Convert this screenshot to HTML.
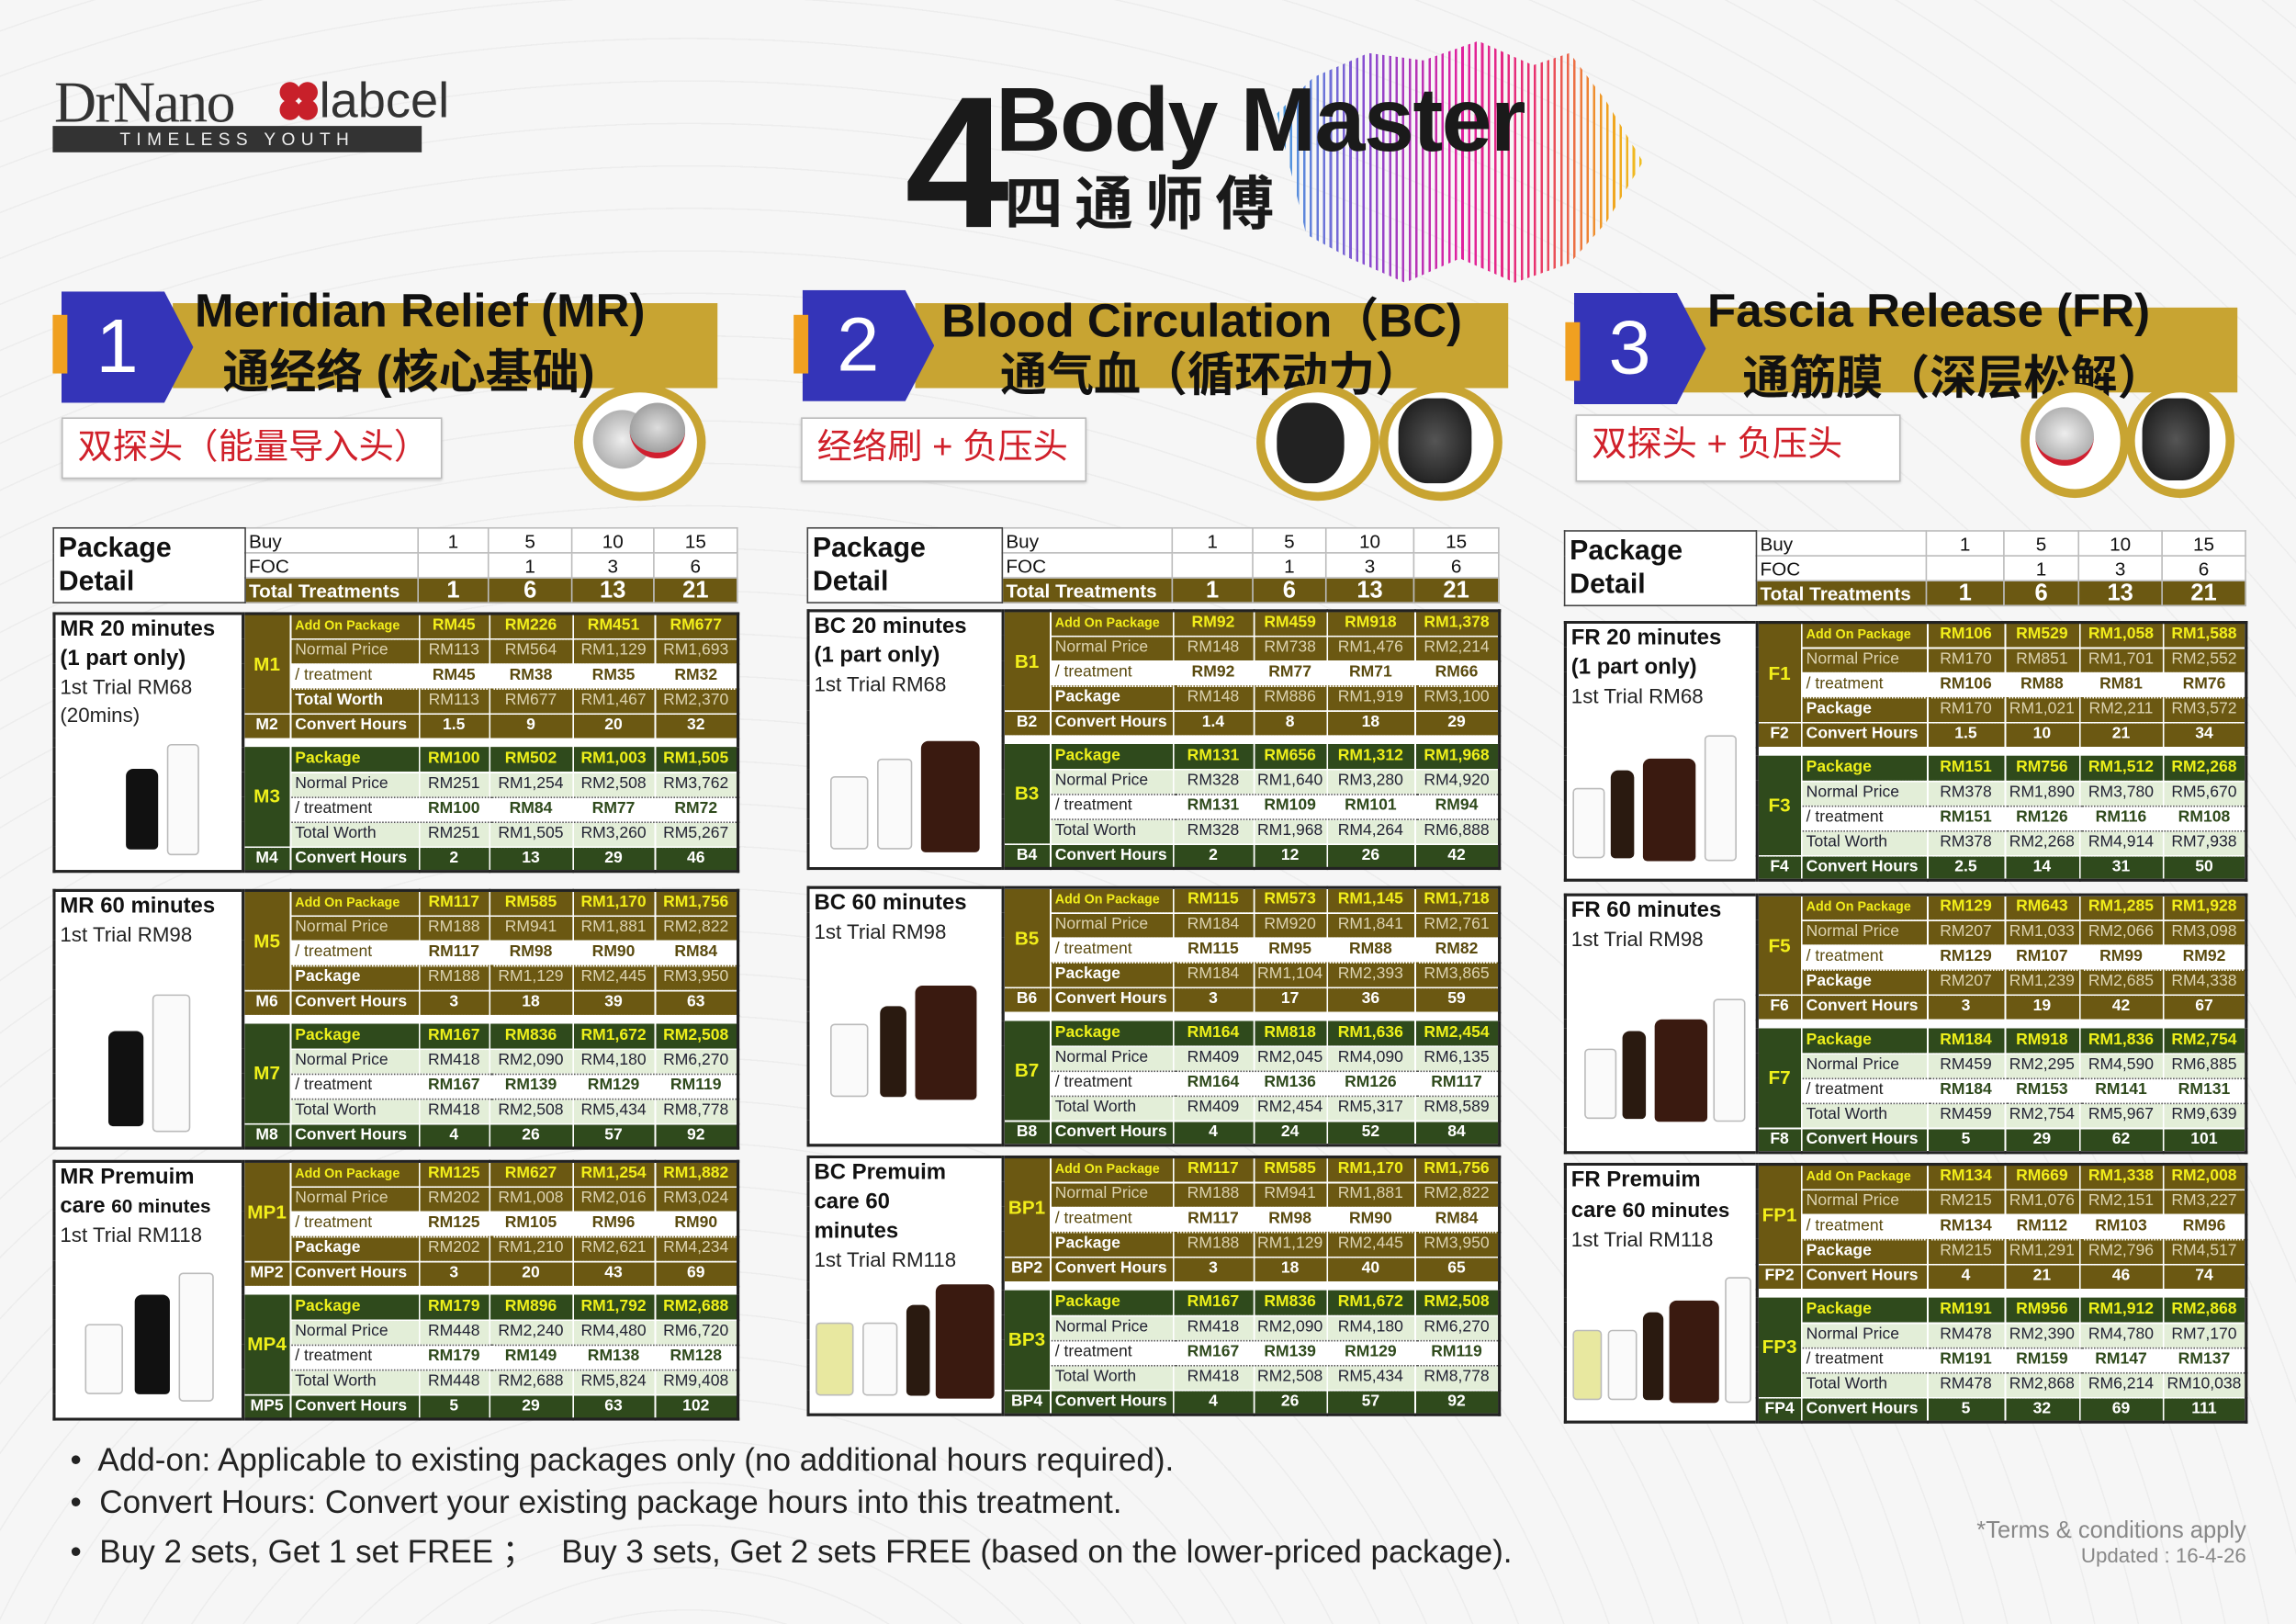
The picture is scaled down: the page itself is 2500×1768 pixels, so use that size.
<!DOCTYPE html>
<html><head><meta charset="utf-8">
<style>
*{box-sizing:border-box;margin:0;padding:0}
html,body{width:2500px;height:1768px;overflow:hidden;background:#f6f6f6}
#w{position:absolute;left:0;top:0;width:1568px;height:1109px;transform:scale(1.59439);transform-origin:0 0;font-family:"Liberation Sans Narrow","Liberation Sans",sans-serif;color:#111}
.abs{position:absolute}
.bg{background:repeating-radial-gradient(circle at 30% 120%,transparent 0 28px,rgba(0,0,0,.035) 28px 29px);}
table.t{position:absolute;border-collapse:collapse;table-layout:fixed;border:2px solid #222;background:#fff}
table.t td{padding:0;text-align:center;font-size:11px;white-space:nowrap;overflow:hidden;height:17px;border-right:1px solid rgba(255,255,255,.55);border-bottom:1px dotted rgba(255,255,255,.5);line-height:15px}
table.t td.lab{text-align:left;padding-left:3px}
table.t td.lc{vertical-align:top;text-align:left!important;background:#fff!important;color:#111!important;font-weight:normal!important;border-right:2px solid #222!important;border-bottom:none!important;position:relative}
.lc .h{font-family:"Liberation Sans",sans-serif;font-weight:bold;font-size:15px;line-height:20px;padding-left:3px;white-space:normal;color:#111}
.lc .s{font-size:14px;line-height:19px;padding-left:3px;white-space:normal;color:#222}
td.co{background:#6b5812;color:#fff;font-weight:bold;font-size:13px!important}
td.cg{background:#2f4a1c;color:#fff;font-weight:bold;font-size:13px!important}
tr.a1 td{background:#6b5812;color:#f2ee1a;font-weight:bold}
tr.a1 td.lab{font-size:9px}
tr.a2 td{background:#6b5812;color:#ddd3b0}
tr.a3 td{background:#fff;color:#5a4a0e;font-weight:bold;border-bottom:1px dotted #6b5812}
tr.a3 td.lab{font-weight:normal}
tr.a4 td{background:#6b5812;color:#ddd3b0}
tr.a4 td.lab{color:#fff;font-weight:bold}
tr.cv td{background:#6b5812;color:#fff;font-weight:bold}
tr.gp td{height:6px!important;background:#fff;border:none}
tr.b1 td{background:#2f4a1c;color:#eef01a;font-weight:bold}
tr.b2 td{background:#e3eed8;color:#223;border-bottom:1px dotted #555}
tr.b3 td{background:#fff;color:#2f4a1c;font-weight:bold;border-bottom:1px dotted #555}
tr.b3 td.lab{font-weight:normal;color:#222}
tr.b4 td{background:#e3eed8;color:#223}
tr.cg td{background:#2f4a1c;color:#fff;font-weight:bold}
table.hd{position:absolute;border-collapse:collapse;table-layout:fixed;background:#fff;border:1px solid #444}
table.hd td{font-size:13px;height:17px;text-align:center;border:1px solid #bbb;padding:0;line-height:15px}
table.hd td.l{text-align:left;padding-left:2px}
table.hd td.pk{font-family:"Liberation Sans",sans-serif;font-weight:bold;font-size:19px;text-align:left;padding-left:3px;line-height:23px;border:1px solid #444}
table.hd tr.tt td{background:#6b5812;color:#fff;font-weight:bold;font-size:16px}
table.hd tr.tt td.l{font-size:13px}
.bk{position:absolute;background:#111;border-radius:5px 5px 3px 3px}
.wh{position:absolute;background:#fafafa;border:1px solid #bbb;border-radius:3px}
.banner{position:absolute;background:#c8a432;height:58px}
.badge{position:absolute;width:90px;height:76px;background:#3434b8;clip-path:polygon(0 0,78% 0,100% 50%,78% 100%,0 100%);color:#fff;font-family:"Liberation Sans",sans-serif;font-size:52px;text-align:center;line-height:76px;padding-right:14px}
.bt{position:absolute;font-family:"Liberation Sans","Noto Sans CJK SC",sans-serif;font-weight:bold;color:#111;white-space:nowrap}
.rb{position:absolute;background:#fff;border:1px solid #bbb;color:#d0202a;font-family:"Liberation Sans","Noto Sans CJK SC",sans-serif;font-size:24px;padding-left:10px;line-height:40px;box-shadow:0 1px 2px rgba(0,0,0,.2)}
.ring{position:absolute;border:6px solid #c8a432;border-radius:50%;background:#fff}
.ft{position:absolute;left:48px;font-family:"Liberation Sans",sans-serif;font-size:22px;color:#222;white-space:nowrap}
</style></head><body>
<div id="w">
<div class="abs bg" style="left:0;top:0;width:1568px;height:1109px"></div>

<!-- logo -->
<div class="abs" style="left:37px;top:46px;font-family:'Liberation Serif',serif;font-size:40px;color:#333;letter-spacing:-1px">DrNano</div>
<div class="abs" style="left:191px;top:56px;width:14px;height:14px;border-radius:50%;background:#c8202a"></div>
<div class="abs" style="left:203px;top:56px;width:14px;height:14px;border-radius:50%;background:#c8202a"></div>
<div class="abs" style="left:191px;top:68px;width:14px;height:14px;border-radius:50%;background:#c8202a"></div>
<div class="abs" style="left:203px;top:68px;width:14px;height:14px;border-radius:50%;background:#c8202a"></div>
<div class="abs" style="left:218px;top:50px;font-family:'Liberation Sans Narrow',sans-serif;font-size:34px;color:#333">labcel</div>
<div class="abs" style="left:36px;top:86px;width:252px;height:18px;background:#333;color:#eee;font-size:12px;letter-spacing:4px;text-align:center;line-height:18px;font-family:'Liberation Sans',sans-serif">TIMELESS YOUTH</div>

<!-- title -->
<div class="abs" style="left:872px;top:28px;width:250px;height:165px;background:linear-gradient(90deg,#4aa0e0,#8a4ad0 25%,#e020a0 50%,#e83070 70%,#f0a020 90%,#f0c020);-webkit-mask-image:repeating-linear-gradient(90deg,#000 0 1.6px,transparent 1.6px 4.5px);clip-path:polygon(0 30%,10% 15%,25% 5%,40% 8%,55% 0,70% 10%,80% 5%,90% 25%,100% 50%,90% 75%,80% 92%,65% 100%,50% 90%,35% 100%,20% 90%,8% 80%)"></div>
<div class="abs" style="left:618px;top:48px;font-family:'Liberation Sans Narrow','Liberation Sans',sans-serif;font-weight:bold;font-size:128px;line-height:128px;color:#1a1a1a">4</div>
<div class="abs" style="left:680px;top:48px;font-family:'Liberation Sans',sans-serif;font-weight:bold;font-size:62px;line-height:70px;color:#1a1a1a;letter-spacing:-1px">Body Master</div>
<div class="abs" style="left:686px;top:112px;font-family:'Noto Sans CJK SC',sans-serif;font-weight:bold;font-size:40px;line-height:48px;color:#1a1a1a;letter-spacing:8px">四通师傅</div>

<!-- section 1 -->
<div class="banner" style="left:118px;top:207px;width:372px"></div>
<div class="badge" style="left:42px;top:199px">1</div>
<div class="abs" style="left:36px;top:215px;width:10px;height:40px;background:#f0a020"></div>
<div class="bt" style="left:133px;top:194px;font-size:32px">Meridian Relief (MR)</div>
<div class="bt" style="left:152px;top:229px;font-size:32px">通经络 (核心基础)</div>
<div class="rb" style="left:42px;top:285px;width:260px;height:42px">双探头（能量导入头）</div>
<div class="ring" style="left:392px;top:262px;width:90px;height:80px"></div>
<div class="abs" style="left:405px;top:280px;width:40px;height:40px;border-radius:50%;background:radial-gradient(#eee,#999);"></div>
<div class="abs" style="left:430px;top:275px;width:38px;height:38px;border-radius:50%;background:radial-gradient(#ddd,#888);border-bottom:4px solid #d02030"></div>

<!-- section 2 -->
<div class="banner" style="left:625px;top:207px;width:405px"></div>
<div class="badge" style="left:548px;top:198px">2</div>
<div class="abs" style="left:542px;top:215px;width:10px;height:40px;background:#f0a020"></div>
<div class="bt" style="left:643px;top:194px;font-size:32px">Blood Circulation（BC)</div>
<div class="bt" style="left:683px;top:231px;font-size:32px">通气血（循环动力）</div>
<div class="rb" style="left:547px;top:285px;width:195px;height:44px">经络刷 + 负压头</div>
<div class="ring" style="left:858px;top:262px;width:84px;height:80px"></div>
<div class="ring" style="left:942px;top:262px;width:84px;height:80px"></div>
<div class="abs" style="left:872px;top:275px;width:46px;height:55px;border-radius:45%;background:#222"></div>
<div class="abs" style="left:955px;top:272px;width:50px;height:58px;border-radius:40%;background:radial-gradient(#555,#111)"></div>

<!-- section 3 -->
<div class="banner" style="left:1148px;top:210px;width:380px"></div>
<div class="badge" style="left:1075px;top:200px">3</div>
<div class="abs" style="left:1069px;top:220px;width:10px;height:40px;background:#f0a020"></div>
<div class="bt" style="left:1166px;top:194px;font-size:32px">Fascia Release (FR)</div>
<div class="bt" style="left:1190px;top:233px;font-size:32px">通筋膜（深层松解）</div>
<div class="rb" style="left:1076px;top:283px;width:222px;height:46px">双探头 + 负压头</div>
<div class="ring" style="left:1380px;top:262px;width:74px;height:78px"></div>
<div class="ring" style="left:1452px;top:262px;width:74px;height:78px"></div>
<div class="abs" style="left:1390px;top:278px;width:40px;height:40px;border-radius:50%;background:radial-gradient(#eee,#999);border-bottom:4px solid #d02030"></div>
<div class="abs" style="left:1463px;top:272px;width:46px;height:56px;border-radius:40%;background:radial-gradient(#555,#111)"></div>

<!-- ============ PANEL 1 ============ -->
<table class="hd" style="left:36px;top:360px;width:467px">
<colgroup><col style="width:131px"><col style="width:118px"><col style="width:48px"><col style="width:57px"><col style="width:56px"><col style="width:57px"></colgroup>
<tr><td class="pk" rowspan="3">Package<br>Detail</td><td class="l">Buy</td><td>1</td><td>5</td><td>10</td><td>15</td></tr>
<tr><td class="l">FOC</td><td></td><td>1</td><td>3</td><td>6</td></tr>
<tr class="tt"><td class="l">Total Treatments</td><td>1</td><td>6</td><td>13</td><td>21</td></tr>
</table>

<table class="t" style="left:36px;top:418px;width:467px">
<colgroup><col style="width:129px"><col style="width:32px"><col style="width:88px"><col style="width:48px"><col style="width:57px"><col style="width:56px"><col style="width:57px"></colgroup>
<tr class="a1"><td class="lc" rowspan="11"><div class="h">MR 20 minutes<br>(1 part only)</div><div class="s">1st Trial RM68<br>(20mins)</div><div class="bk" style="left:48px;top:105px;width:22px;height:55px"></div><div class="wh" style="left:76px;top:88px;width:22px;height:76px"></div></td><td class="co" rowspan="4">M1</td><td class="lab">Add On Package</td><td>RM45</td><td>RM226</td><td>RM451</td><td>RM677</td></tr>
<tr class="a2"><td class="lab">Normal Price</td><td>RM113</td><td>RM564</td><td>RM1,129</td><td>RM1,693</td></tr>
<tr class="a3"><td class="lab">/ treatment</td><td>RM45</td><td>RM38</td><td>RM35</td><td>RM32</td></tr>
<tr class="a4"><td class="lab">Total Worth</td><td>RM113</td><td>RM677</td><td>RM1,467</td><td>RM2,370</td></tr>
<tr class="cv"><td>M2</td><td class="lab">Convert Hours</td><td>1.5</td><td>9</td><td>20</td><td>32</td></tr>
<tr class="gp"><td colspan="6"></td></tr>
<tr class="b1"><td class="cg" rowspan="4">M3</td><td class="lab">Package</td><td>RM100</td><td>RM502</td><td>RM1,003</td><td>RM1,505</td></tr>
<tr class="b2"><td class="lab">Normal Price</td><td>RM251</td><td>RM1,254</td><td>RM2,508</td><td>RM3,762</td></tr>
<tr class="b3"><td class="lab">/ treatment</td><td>RM100</td><td>RM84</td><td>RM77</td><td>RM72</td></tr>
<tr class="b4"><td class="lab">Total Worth</td><td>RM251</td><td>RM1,505</td><td>RM3,260</td><td>RM5,267</td></tr>
<tr class="cg"><td>M4</td><td class="lab">Convert Hours</td><td>2</td><td>13</td><td>29</td><td>46</td></tr>
</table>

<table class="t" style="left:36px;top:607px;width:467px">
<colgroup><col style="width:129px"><col style="width:32px"><col style="width:88px"><col style="width:48px"><col style="width:57px"><col style="width:56px"><col style="width:57px"></colgroup>
<tr class="a1"><td class="lc" rowspan="11"><div class="h">MR 60 minutes</div><div class="s">1st Trial RM98</div><div class="bk" style="left:36px;top:95px;width:24px;height:65px"></div><div class="wh" style="left:66px;top:70px;width:26px;height:94px"></div></td><td class="co" rowspan="4">M5</td><td class="lab">Add On Package</td><td>RM117</td><td>RM585</td><td>RM1,170</td><td>RM1,756</td></tr>
<tr class="a2"><td class="lab">Normal Price</td><td>RM188</td><td>RM941</td><td>RM1,881</td><td>RM2,822</td></tr>
<tr class="a3"><td class="lab">/ treatment</td><td>RM117</td><td>RM98</td><td>RM90</td><td>RM84</td></tr>
<tr class="a4"><td class="lab">Package</td><td>RM188</td><td>RM1,129</td><td>RM2,445</td><td>RM3,950</td></tr>
<tr class="cv"><td>M6</td><td class="lab">Convert Hours</td><td>3</td><td>18</td><td>39</td><td>63</td></tr>
<tr class="gp"><td colspan="6"></td></tr>
<tr class="b1"><td class="cg" rowspan="4">M7</td><td class="lab">Package</td><td>RM167</td><td>RM836</td><td>RM1,672</td><td>RM2,508</td></tr>
<tr class="b2"><td class="lab">Normal Price</td><td>RM418</td><td>RM2,090</td><td>RM4,180</td><td>RM6,270</td></tr>
<tr class="b3"><td class="lab">/ treatment</td><td>RM167</td><td>RM139</td><td>RM129</td><td>RM119</td></tr>
<tr class="b4"><td class="lab">Total Worth</td><td>RM418</td><td>RM2,508</td><td>RM5,434</td><td>RM8,778</td></tr>
<tr class="cg"><td>M8</td><td class="lab">Convert Hours</td><td>4</td><td>26</td><td>57</td><td>92</td></tr>
</table>

<table class="t" style="left:36px;top:792px;width:467px">
<colgroup><col style="width:129px"><col style="width:32px"><col style="width:88px"><col style="width:48px"><col style="width:57px"><col style="width:56px"><col style="width:57px"></colgroup>
<tr class="a1"><td class="lc" rowspan="11"><div class="h">MR Premuim<br>care <span style="font-size:13px">60 minutes</span></div><div class="s">1st Trial RM118</div><div class="wh" style="left:20px;top:110px;width:26px;height:48px"></div><div class="bk" style="left:54px;top:90px;width:24px;height:68px"></div><div class="wh" style="left:84px;top:75px;width:24px;height:88px"></div></td><td class="co" rowspan="4">MP1</td><td class="lab">Add On Package</td><td>RM125</td><td>RM627</td><td>RM1,254</td><td>RM1,882</td></tr>
<tr class="a2"><td class="lab">Normal Price</td><td>RM202</td><td>RM1,008</td><td>RM2,016</td><td>RM3,024</td></tr>
<tr class="a3"><td class="lab">/ treatment</td><td>RM125</td><td>RM105</td><td>RM96</td><td>RM90</td></tr>
<tr class="a4"><td class="lab">Package</td><td>RM202</td><td>RM1,210</td><td>RM2,621</td><td>RM4,234</td></tr>
<tr class="cv"><td>MP2</td><td class="lab">Convert Hours</td><td>3</td><td>20</td><td>43</td><td>69</td></tr>
<tr class="gp"><td colspan="6"></td></tr>
<tr class="b1"><td class="cg" rowspan="4">MP4</td><td class="lab">Package</td><td>RM179</td><td>RM896</td><td>RM1,792</td><td>RM2,688</td></tr>
<tr class="b2"><td class="lab">Normal Price</td><td>RM448</td><td>RM2,240</td><td>RM4,480</td><td>RM6,720</td></tr>
<tr class="b3"><td class="lab">/ treatment</td><td>RM179</td><td>RM149</td><td>RM138</td><td>RM128</td></tr>
<tr class="b4"><td class="lab">Total Worth</td><td>RM448</td><td>RM2,688</td><td>RM5,824</td><td>RM9,408</td></tr>
<tr class="cg"><td>MP5</td><td class="lab">Convert Hours</td><td>5</td><td>29</td><td>63</td><td>102</td></tr>
</table>

<!-- ============ PANEL 2 ============ -->
<table class="hd" style="left:551px;top:360px;width:472px">
<colgroup><col style="width:133px"><col style="width:116px"><col style="width:55px"><col style="width:50px"><col style="width:60px"><col style="width:58px"></colgroup>
<tr><td class="pk" rowspan="3">Package<br>Detail</td><td class="l">Buy</td><td>1</td><td>5</td><td>10</td><td>15</td></tr>
<tr><td class="l">FOC</td><td></td><td>1</td><td>3</td><td>6</td></tr>
<tr class="tt"><td class="l">Total Treatments</td><td>1</td><td>6</td><td>13</td><td>21</td></tr>
</table>

<table class="t" style="left:551px;top:416px;width:472px">
<colgroup><col style="width:133px"><col style="width:32px"><col style="width:84px"><col style="width:55px"><col style="width:50px"><col style="width:60px"><col style="width:58px"></colgroup>
<tr class="a1"><td class="lc" rowspan="11"><div class="h">BC 20 minutes<br>(1 part only)</div><div class="s">1st Trial RM68</div><div class="wh" style="left:14px;top:112px;width:26px;height:50px"></div><div class="wh" style="left:46px;top:100px;width:24px;height:62px"></div><div class="bk" style="left:76px;top:88px;width:40px;height:76px;background:#3a1a10"></div></td><td class="co" rowspan="4">B1</td><td class="lab">Add On Package</td><td>RM92</td><td>RM459</td><td>RM918</td><td>RM1,378</td></tr>
<tr class="a2"><td class="lab">Normal Price</td><td>RM148</td><td>RM738</td><td>RM1,476</td><td>RM2,214</td></tr>
<tr class="a3"><td class="lab">/ treatment</td><td>RM92</td><td>RM77</td><td>RM71</td><td>RM66</td></tr>
<tr class="a4"><td class="lab">Package</td><td>RM148</td><td>RM886</td><td>RM1,919</td><td>RM3,100</td></tr>
<tr class="cv"><td>B2</td><td class="lab">Convert Hours</td><td>1.4</td><td>8</td><td>18</td><td>29</td></tr>
<tr class="gp"><td colspan="6"></td></tr>
<tr class="b1"><td class="cg" rowspan="4">B3</td><td class="lab">Package</td><td>RM131</td><td>RM656</td><td>RM1,312</td><td>RM1,968</td></tr>
<tr class="b2"><td class="lab">Normal Price</td><td>RM328</td><td>RM1,640</td><td>RM3,280</td><td>RM4,920</td></tr>
<tr class="b3"><td class="lab">/ treatment</td><td>RM131</td><td>RM109</td><td>RM101</td><td>RM94</td></tr>
<tr class="b4"><td class="lab">Total Worth</td><td>RM328</td><td>RM1,968</td><td>RM4,264</td><td>RM6,888</td></tr>
<tr class="cg"><td>B4</td><td class="lab">Convert Hours</td><td>2</td><td>12</td><td>26</td><td>42</td></tr>
</table>

<table class="t" style="left:551px;top:605px;width:472px">
<colgroup><col style="width:133px"><col style="width:32px"><col style="width:84px"><col style="width:55px"><col style="width:50px"><col style="width:60px"><col style="width:58px"></colgroup>
<tr class="a1"><td class="lc" rowspan="11"><div class="h">BC 60 minutes</div><div class="s">1st Trial RM98</div><div class="wh" style="left:14px;top:92px;width:26px;height:50px"></div><div class="bk" style="left:48px;top:80px;width:18px;height:62px;background:#2a1a10"></div><div class="bk" style="left:72px;top:66px;width:42px;height:78px;background:#3a1a10"></div></td><td class="co" rowspan="4">B5</td><td class="lab">Add On Package</td><td>RM115</td><td>RM573</td><td>RM1,145</td><td>RM1,718</td></tr>
<tr class="a2"><td class="lab">Normal Price</td><td>RM184</td><td>RM920</td><td>RM1,841</td><td>RM2,761</td></tr>
<tr class="a3"><td class="lab">/ treatment</td><td>RM115</td><td>RM95</td><td>RM88</td><td>RM82</td></tr>
<tr class="a4"><td class="lab">Package</td><td>RM184</td><td>RM1,104</td><td>RM2,393</td><td>RM3,865</td></tr>
<tr class="cv"><td>B6</td><td class="lab">Convert Hours</td><td>3</td><td>17</td><td>36</td><td>59</td></tr>
<tr class="gp"><td colspan="6"></td></tr>
<tr class="b1"><td class="cg" rowspan="4">B7</td><td class="lab">Package</td><td>RM164</td><td>RM818</td><td>RM1,636</td><td>RM2,454</td></tr>
<tr class="b2"><td class="lab">Normal Price</td><td>RM409</td><td>RM2,045</td><td>RM4,090</td><td>RM6,135</td></tr>
<tr class="b3"><td class="lab">/ treatment</td><td>RM164</td><td>RM136</td><td>RM126</td><td>RM117</td></tr>
<tr class="b4"><td class="lab">Total Worth</td><td>RM409</td><td>RM2,454</td><td>RM5,317</td><td>RM8,589</td></tr>
<tr class="cg"><td>B8</td><td class="lab">Convert Hours</td><td>4</td><td>24</td><td>52</td><td>84</td></tr>
</table>

<table class="t" style="left:551px;top:789px;width:472px">
<colgroup><col style="width:133px"><col style="width:32px"><col style="width:84px"><col style="width:55px"><col style="width:50px"><col style="width:60px"><col style="width:58px"></colgroup>
<tr class="a1"><td class="lc" rowspan="11"><div class="h">BC Premuim<br>care 60<br>minutes</div><div class="s">1st Trial RM118</div><div class="wh" style="left:4px;top:112px;width:26px;height:50px;background:#e8e8a0"></div><div class="wh" style="left:36px;top:112px;width:24px;height:50px"></div><div class="bk" style="left:66px;top:100px;width:16px;height:62px;background:#2a1a10"></div><div class="bk" style="left:86px;top:86px;width:40px;height:78px;background:#3a1a10"></div></td><td class="co" rowspan="4">BP1</td><td class="lab">Add On Package</td><td>RM117</td><td>RM585</td><td>RM1,170</td><td>RM1,756</td></tr>
<tr class="a2"><td class="lab">Normal Price</td><td>RM188</td><td>RM941</td><td>RM1,881</td><td>RM2,822</td></tr>
<tr class="a3"><td class="lab">/ treatment</td><td>RM117</td><td>RM98</td><td>RM90</td><td>RM84</td></tr>
<tr class="a4"><td class="lab">Package</td><td>RM188</td><td>RM1,129</td><td>RM2,445</td><td>RM3,950</td></tr>
<tr class="cv"><td>BP2</td><td class="lab">Convert Hours</td><td>3</td><td>18</td><td>40</td><td>65</td></tr>
<tr class="gp"><td colspan="6"></td></tr>
<tr class="b1"><td class="cg" rowspan="4">BP3</td><td class="lab">Package</td><td>RM167</td><td>RM836</td><td>RM1,672</td><td>RM2,508</td></tr>
<tr class="b2"><td class="lab">Normal Price</td><td>RM418</td><td>RM2,090</td><td>RM4,180</td><td>RM6,270</td></tr>
<tr class="b3"><td class="lab">/ treatment</td><td>RM167</td><td>RM139</td><td>RM129</td><td>RM119</td></tr>
<tr class="b4"><td class="lab">Total Worth</td><td>RM418</td><td>RM2,508</td><td>RM5,434</td><td>RM8,778</td></tr>
<tr class="cg"><td>BP4</td><td class="lab">Convert Hours</td><td>4</td><td>26</td><td>57</td><td>92</td></tr>
</table>

<!-- ============ PANEL 3 ============ -->
<table class="hd" style="left:1068px;top:362px;width:465px">
<colgroup><col style="width:131px"><col style="width:116px"><col style="width:53px"><col style="width:51px"><col style="width:57px"><col style="width:57px"></colgroup>
<tr><td class="pk" rowspan="3">Package<br>Detail</td><td class="l">Buy</td><td>1</td><td>5</td><td>10</td><td>15</td></tr>
<tr><td class="l">FOC</td><td></td><td>1</td><td>3</td><td>6</td></tr>
<tr class="tt"><td class="l">Total Treatments</td><td>1</td><td>6</td><td>13</td><td>21</td></tr>
</table>

<table class="t" style="left:1068px;top:424px;width:465px">
<colgroup><col style="width:131px"><col style="width:30px"><col style="width:86px"><col style="width:53px"><col style="width:51px"><col style="width:57px"><col style="width:57px"></colgroup>
<tr class="a1"><td class="lc" rowspan="11"><div class="h">FR 20 minutes<br>(1 part only)</div><div class="s">1st Trial RM68</div><div class="wh" style="left:4px;top:112px;width:22px;height:48px"></div><div class="bk" style="left:30px;top:100px;width:16px;height:60px;background:#2a1a10"></div><div class="bk" style="left:52px;top:92px;width:36px;height:70px;background:#3a1a10"></div><div class="wh" style="left:94px;top:76px;width:22px;height:86px"></div></td><td class="co" rowspan="4">F1</td><td class="lab">Add On Package</td><td>RM106</td><td>RM529</td><td>RM1,058</td><td>RM1,588</td></tr>
<tr class="a2"><td class="lab">Normal Price</td><td>RM170</td><td>RM851</td><td>RM1,701</td><td>RM2,552</td></tr>
<tr class="a3"><td class="lab">/ treatment</td><td>RM106</td><td>RM88</td><td>RM81</td><td>RM76</td></tr>
<tr class="a4"><td class="lab">Package</td><td>RM170</td><td>RM1,021</td><td>RM2,211</td><td>RM3,572</td></tr>
<tr class="cv"><td>F2</td><td class="lab">Convert Hours</td><td>1.5</td><td>10</td><td>21</td><td>34</td></tr>
<tr class="gp"><td colspan="6"></td></tr>
<tr class="b1"><td class="cg" rowspan="4">F3</td><td class="lab">Package</td><td>RM151</td><td>RM756</td><td>RM1,512</td><td>RM2,268</td></tr>
<tr class="b2"><td class="lab">Normal Price</td><td>RM378</td><td>RM1,890</td><td>RM3,780</td><td>RM5,670</td></tr>
<tr class="b3"><td class="lab">/ treatment</td><td>RM151</td><td>RM126</td><td>RM116</td><td>RM108</td></tr>
<tr class="b4"><td class="lab">Total Worth</td><td>RM378</td><td>RM2,268</td><td>RM4,914</td><td>RM7,938</td></tr>
<tr class="cg"><td>F4</td><td class="lab">Convert Hours</td><td>2.5</td><td>14</td><td>31</td><td>50</td></tr>
</table>

<table class="t" style="left:1068px;top:610px;width:465px">
<colgroup><col style="width:131px"><col style="width:30px"><col style="width:86px"><col style="width:53px"><col style="width:51px"><col style="width:57px"><col style="width:57px"></colgroup>
<tr class="a1"><td class="lc" rowspan="11"><div class="h">FR 60 minutes</div><div class="s">1st Trial RM98</div><div class="wh" style="left:12px;top:104px;width:22px;height:48px"></div><div class="bk" style="left:38px;top:92px;width:16px;height:60px;background:#2a1a10"></div><div class="bk" style="left:60px;top:84px;width:36px;height:70px;background:#3a1a10"></div><div class="wh" style="left:100px;top:70px;width:22px;height:84px"></div></td><td class="co" rowspan="4">F5</td><td class="lab">Add On Package</td><td>RM129</td><td>RM643</td><td>RM1,285</td><td>RM1,928</td></tr>
<tr class="a2"><td class="lab">Normal Price</td><td>RM207</td><td>RM1,033</td><td>RM2,066</td><td>RM3,098</td></tr>
<tr class="a3"><td class="lab">/ treatment</td><td>RM129</td><td>RM107</td><td>RM99</td><td>RM92</td></tr>
<tr class="a4"><td class="lab">Package</td><td>RM207</td><td>RM1,239</td><td>RM2,685</td><td>RM4,338</td></tr>
<tr class="cv"><td>F6</td><td class="lab">Convert Hours</td><td>3</td><td>19</td><td>42</td><td>67</td></tr>
<tr class="gp"><td colspan="6"></td></tr>
<tr class="b1"><td class="cg" rowspan="4">F7</td><td class="lab">Package</td><td>RM184</td><td>RM918</td><td>RM1,836</td><td>RM2,754</td></tr>
<tr class="b2"><td class="lab">Normal Price</td><td>RM459</td><td>RM2,295</td><td>RM4,590</td><td>RM6,885</td></tr>
<tr class="b3"><td class="lab">/ treatment</td><td>RM184</td><td>RM153</td><td>RM141</td><td>RM131</td></tr>
<tr class="b4"><td class="lab">Total Worth</td><td>RM459</td><td>RM2,754</td><td>RM5,967</td><td>RM9,639</td></tr>
<tr class="cg"><td>F8</td><td class="lab">Convert Hours</td><td>5</td><td>29</td><td>62</td><td>101</td></tr>
</table>

<table class="t" style="left:1068px;top:794px;width:465px">
<colgroup><col style="width:131px"><col style="width:30px"><col style="width:86px"><col style="width:53px"><col style="width:51px"><col style="width:57px"><col style="width:57px"></colgroup>
<tr class="a1"><td class="lc" rowspan="11"><div class="h">FR Premuim<br>care <span style="font-size:14px">60 minutes</span></div><div class="s">1st Trial RM118</div><div class="wh" style="left:4px;top:112px;width:20px;height:48px;background:#e8e8a0"></div><div class="wh" style="left:28px;top:112px;width:20px;height:48px"></div><div class="bk" style="left:52px;top:100px;width:14px;height:60px;background:#2a1a10"></div><div class="bk" style="left:70px;top:92px;width:34px;height:70px;background:#3a1a10"></div><div class="wh" style="left:108px;top:76px;width:18px;height:86px"></div></td><td class="co" rowspan="4">FP1</td><td class="lab">Add On Package</td><td>RM134</td><td>RM669</td><td>RM1,338</td><td>RM2,008</td></tr>
<tr class="a2"><td class="lab">Normal Price</td><td>RM215</td><td>RM1,076</td><td>RM2,151</td><td>RM3,227</td></tr>
<tr class="a3"><td class="lab">/ treatment</td><td>RM134</td><td>RM112</td><td>RM103</td><td>RM96</td></tr>
<tr class="a4"><td class="lab">Package</td><td>RM215</td><td>RM1,291</td><td>RM2,796</td><td>RM4,517</td></tr>
<tr class="cv"><td>FP2</td><td class="lab">Convert Hours</td><td>4</td><td>21</td><td>46</td><td>74</td></tr>
<tr class="gp"><td colspan="6"></td></tr>
<tr class="b1"><td class="cg" rowspan="4">FP3</td><td class="lab">Package</td><td>RM191</td><td>RM956</td><td>RM1,912</td><td>RM2,868</td></tr>
<tr class="b2"><td class="lab">Normal Price</td><td>RM478</td><td>RM2,390</td><td>RM4,780</td><td>RM7,170</td></tr>
<tr class="b3"><td class="lab">/ treatment</td><td>RM191</td><td>RM159</td><td>RM147</td><td>RM137</td></tr>
<tr class="b4"><td class="lab">Total Worth</td><td>RM478</td><td>RM2,868</td><td>RM6,214</td><td>RM10,038</td></tr>
<tr class="cg"><td>FP4</td><td class="lab">Convert Hours</td><td>5</td><td>32</td><td>69</td><td>111</td></tr>
</table>

<!-- footer -->
<div class="ft" style="top:984px">•&nbsp; Add-on: Applicable to existing packages only (no additional hours required).</div>
<div class="ft" style="top:1013px">•&nbsp; Convert Hours: Convert your existing package hours into this treatment.</div>
<div class="ft" style="top:1042px;font-family:'Liberation Sans','Noto Sans CJK SC',sans-serif">•&nbsp; Buy 2 sets, Get 1 set FREE ；&nbsp;&nbsp; Buy 3 sets, Get 2 sets FREE (based on the lower-priced package).</div>
<div class="abs" style="left:1300px;top:1037px;width:234px;text-align:right;font-family:'Liberation Sans',sans-serif;font-size:16px;color:#888;line-height:17px">*Terms &amp; conditions apply<br><span style="font-size:14px">Updated : 16-4-26</span></div>
</div>
</body></html>
